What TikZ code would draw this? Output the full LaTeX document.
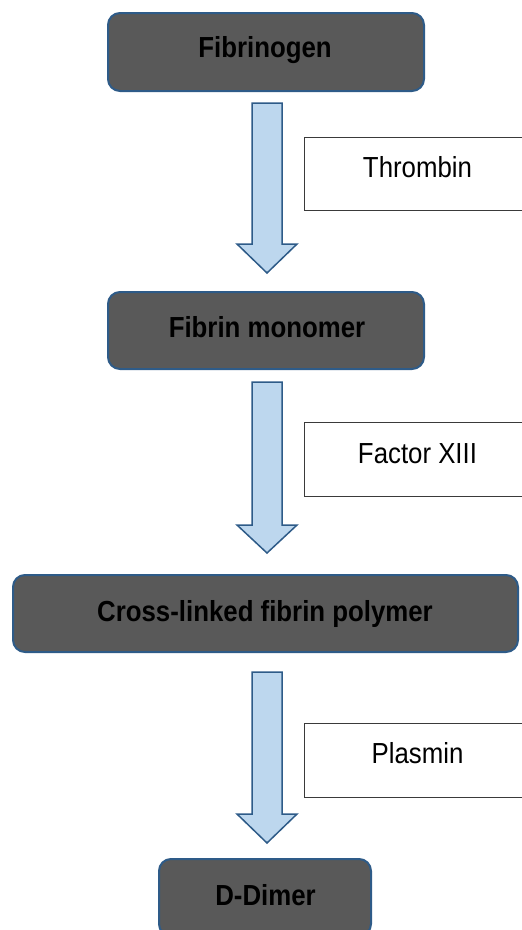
\documentclass[tikz,border=0pt]{standalone}
\usepackage{fontspec}
\setmainfont{Liberation Sans}
\newfontfamily\narr[FakeStretch=0.89]{Liberation Sans}
\definecolor{boxfill}{HTML}{595959}
\definecolor{boxline}{HTML}{2E5B88}
\definecolor{arrfill}{HTML}{BDD7EE}
\definecolor{arrline}{HTML}{2E5B88}
\definecolor{labline}{HTML}{3A3A3A}
\newcommand\blockarr[3]{\draw[blockarrow] (252,#1) -- (282,#1) -- (282,#2) -- (297,#2) -- (267,#3) -- (237,#2) -- (252,#2) -- cycle;}
\begin{document}
\begin{tikzpicture}[x=1pt,y=-1pt,
  mainbox/.style={draw=boxline, line width=2pt, fill=boxfill, rounded corners=12pt, inner sep=0pt},
  labbox/.style={draw=labline, line width=1pt, fill=white, inner sep=0pt, minimum width=227pt},
  maintext/.style={font=\narr\bfseries\fontsize{29}{33}\selectfont, anchor=base, inner sep=0pt, text=black},
  labtext/.style={font=\narr\fontsize{29}{33}\selectfont, anchor=base, inner sep=0pt, text=black},
  blockarrow/.style={draw=arrline, line width=1.5pt, fill=arrfill, line join=miter}]
\useasboundingbox (0,0) rectangle (522,930);
\clip (0,0) rectangle (522,930);
% main boxes
\node[mainbox, minimum width=316pt, minimum height=78pt] (b1) at (266,52) {};
\node[mainbox, minimum width=316pt, minimum height=77pt] (b2) at (266,330.5) {};
\node[mainbox, minimum width=505pt, minimum height=77pt] (b3) at (265.5,613.5) {};
\node[mainbox, minimum width=212pt, minimum height=77pt] (b4) at (265,897.5) {};
\node[maintext] (t1) at (265,57) {Fibrinogen};
\node[maintext] (t2) at (267,337) {Fibrin monomer};
\node[maintext] (t3) at (265,621) {Cross-linked fibrin polymer};
\node[maintext] (t4) at (265.5,905) {D-Dimer};
% block arrows
\blockarr{103}{244}{273}
\blockarr{382}{525}{553}
\blockarr{672}{814}{843}
% label boxes
\node[labbox, minimum height=73pt] (l1) at (417.5,173.5) {};
\node[labbox, minimum height=74pt] (l2) at (417.5,459) {};
\node[labbox, minimum height=74pt] (l3) at (417.5,760) {};
\node[labtext] (lt1) at (417.5,177) {Thrombin};
\node[labtext] (lt2) at (417.5,463) {Factor XIII};
\node[labtext] (lt3) at (417.5,763) {Plasmin};
\end{tikzpicture}
\end{document}
